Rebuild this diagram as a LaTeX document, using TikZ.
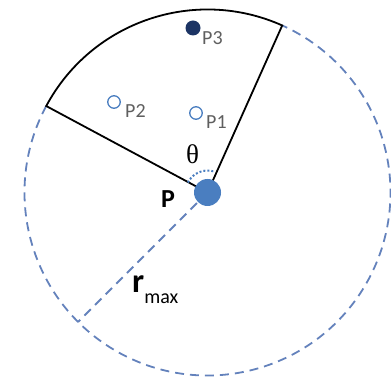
\documentclass[tikz,border=0pt]{standalone}
\usepackage{fontspec}
\newfontfamily\labfont{Carlito}
\newfontfamily\grkfont{Liberation Serif}
\definecolor{dashblue}{RGB}{100,130,188}
\definecolor{dotblue}{RGB}{74,126,192}
\definecolor{navy}{RGB}{28,52,100}
\definecolor{labgray}{RGB}{95,95,95}
\tikzset{
  dashline/.style={draw=dashblue, line width=1.8pt, dash pattern=on 9pt off 6pt},
  sectorline/.style={draw=black, line width=1.8pt, line join=miter},
  hollowpt/.style={circle, draw=dotblue, line width=1.3pt, fill=white, minimum size=12.5pt, inner sep=0pt},
  smalllab/.style={font=\labfont\fontsize{20}{20}\selectfont, text=labgray, inner sep=0pt, anchor=base west},
}
\begin{document}
\begin{tikzpicture}[x=1pt,y=1pt]
\useasboundingbox (0,0) rectangle (391,-379);
\coordinate (C) at (207.5,-192.5);
\coordinate (A) at ([shift={(151.8:183)}]C);
\coordinate (B) at ([shift={(65.9:183)}]C);
\coordinate (R) at ([shift={(225:183)}]C);
% dashed remainder of the circle
\draw[dashline] (A) arc[start angle=151.8, end angle=425.9, radius=183];
% radius r_max
\draw[dashline] (C) -- (R);
% sector
\draw[sectorline] (C) -- (B) arc[start angle=65.9, end angle=151.8, radius=183] -- cycle;
% angle mark
\draw[draw=dotblue, line width=2pt, dotted] ([shift={(153:22)}]C) arc[start angle=153, end angle=72, radius=22];
% P dot
\node[circle, fill=dotblue, minimum size=27pt, inner sep=0pt] (P) at (C) {};
% points
\node[hollowpt] (P2) at (114,-102) {};
\node[hollowpt] (P1) at (196,-113) {};
\node[circle, fill=navy, minimum size=15pt, inner sep=0pt] (P3) at (193,-28) {};
\node[smalllab] (L2) at (125,-118) {P2};
\node[smalllab] (L1) at (206,-129) {P1};
\node[smalllab] (L3) at (202,-45) {P3};
% labels
\node[font=\labfont\bfseries\fontsize{26}{26}\selectfont, inner sep=0pt, anchor=base west] (Plab) at (161,-208) {P};
\node[font=\grkfont\fontsize{27}{27}\selectfont, inner sep=0pt, anchor=base] (th) at (192.5,-164) {θ};
\node[inner sep=0pt, anchor=base west] (rmax) at (132,-293) {{\labfont\bfseries\fontsize{34}{34}\selectfont r}\raisebox{-11pt}{\labfont\fontsize{20}{20}\selectfont max}};
\end{tikzpicture}
\end{document}
